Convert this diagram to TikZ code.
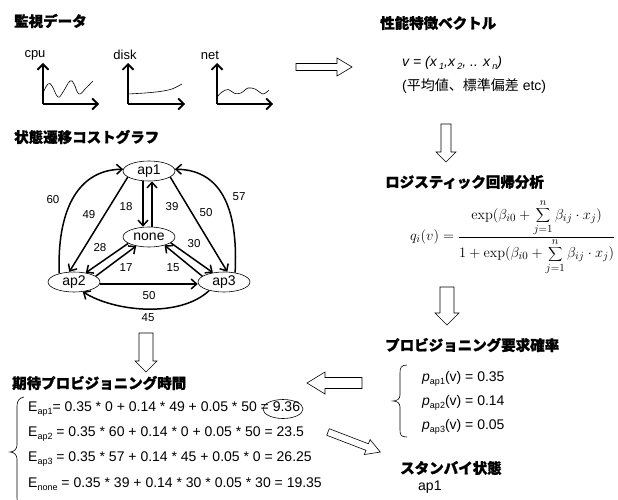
\documentclass[tikz,border=0pt]{standalone}
\usepackage[no-math]{fontspec}
\setmainfont{Liberation Sans}
\newfontfamily\jp[BoldFeatures={FakeBold=1.2}]{Noto Sans CJK JP}
\usetikzlibrary{shapes.geometric,arrows.meta}
\newcommand\sbs[1]{\raisebox{-0.35ex}{\fontsize{9}{9}\selectfont #1}}
\newcommand\blockarrow[7]{%
 \begin{scope}[shift={(#1,#2)},rotate=#3]
 \draw[blockarr] (0,-#5) -- (#4-#7,-#5) -- (#4-#7,-#6) -- (#4,0) -- (#4-#7,#6) -- (#4-#7,#5) -- (0,#5) -- cycle;
 \end{scope}}
\tikzset{
 title/.style={anchor=west,inner sep=0,font={\jp\bfseries\fontsize{14.5}{16}\selectfont}},
 txt/.style={anchor=west,inner sep=0,font={\fontsize{14}{16}\selectfont}},
 chartlbl/.style={inner sep=0,font={\fontsize{13}{15}\selectfont}},
 st/.style={ellipse,draw,line width=0.6pt,minimum width=52pt,minimum height=20pt,inner sep=0,font={\fontsize{14}{16}\selectfont}},
 edge/.style={line width=1.5pt,-{Straight Barb[length=5.5pt,width=10pt]}},
 lbl/.style={inner sep=0,font={\fontsize{11.5}{13}\selectfont}},
 axis/.style={line width=1.8pt,-{Straight Barb[length=5.5pt,width=11pt]}},
 curve/.style={line width=0.6pt},
 blockarr/.style={draw,line width=0.6pt,fill=white},
}
\begin{document}
\begin{tikzpicture}[x=1pt,y=-1pt]
\useasboundingbox (0,0) rectangle (618,500);
\clip (0,0) rectangle (618,500);
% titles
\node[title] (t1) at (14,21) {監視データ};
\node[title] (t2) at (380,23) {性能特徴ベクトル};
\node[title] (t3) at (14,137) {状態遷移コストグラフ};
\node[title] (t4) at (385,182) {ロジスティック回帰分析};
\node[title] (t5) at (385,345) {プロビジョニング要求確率};
\node[title] (t6) at (12,383) {期待プロビジョニング時間};
\node[title] (t7) at (400,468) {スタンバイ状態};
% charts
\node[chartlbl] (lcpu) at (35,55) {cpu};
\node[chartlbl] (ldisk) at (125,55) {disk};
\node[chartlbl] (lnet) at (210,55) {net};
\coordinate (o1) at (43,104); \coordinate (y1) at (43,63); \coordinate (x1) at (99,104);
\coordinate (o2) at (128,104); \coordinate (y2) at (128,63); \coordinate (x2) at (185,104);
\coordinate (o3) at (217,104); \coordinate (y3) at (217,63); \coordinate (x3) at (273,104);
\draw[axis] (o1) -- (y1); \draw[axis] (o1) -- (x1);
\draw[axis] (o2) -- (y2); \draw[axis] (o2) -- (x2);
\draw[axis] (o3) -- (y3); \draw[axis] (o3) -- (x3);
\draw[curve] plot[smooth,tension=0.7] coordinates {(43,93) (48,84) (52,86) (58,97) (63,92) (70,81) (74,84) (79,94) (86,88) (93,81)};
\draw[curve] plot[smooth] coordinates {(128,94) (145,93) (160,91.5) (172,89) (182,84)};
\draw[curve] plot[smooth] coordinates {(217,97) (222,92) (228,89.5) (235,93.5) (241,93) (248,88) (255,89) (263,94) (269,90)};
% feature vector
\node[txt,font={\itshape\fontsize{14}{16}\selectfont}] (vec) at (402,63) {v = (x\,\sbs{1},x\,\sbs{2}, .. x\,\sbs{n})};
\node[txt] (stats) at (402,86) {({\jp 平均値、標準偏差} etc)};
% logistic formula
\node[anchor=west,inner sep=0,font={\fontsize{15}{17}\selectfont}] (qf) at (410,237) {$\displaystyle q_i(v)=\frac{\displaystyle\exp(\beta_{i0}+\sum_{j=1}^{n}\beta_{ij}\cdot x_j)}{\displaystyle 1+\exp(\beta_{i0}+\sum_{j=1}^{n}\beta_{ij}\cdot x_j)}$};
% probabilities
\node[txt] (p1) at (422,379) {\textit{p}\sbs{ap1}(v) = 0.35};
\node[txt] (p2) at (422,403) {\textit{p}\sbs{ap2}(v) = 0.14};
\node[txt] (p3) at (422,427) {\textit{p}\sbs{ap3}(v) = 0.05};
\draw[line width=0.6pt] (407,365) .. controls (401,365) and (400,368) .. (400,373) -- (400,395) .. controls (400,399) and (397,401) .. (393,401) .. controls (397,401) and (400,403) .. (400,407) -- (400,430) .. controls (400,435) and (401,437) .. (407,437);
% standby
\node[txt] (sb) at (418,487) {ap1};
% expected times
\node[txt] (e1) at (28,409) {E\sbs{ap1}= 0.35 * 0 + 0.14 * 49 + 0.05 * 50 = 9.36};
\node[txt] (e2) at (28,434) {E\sbs{ap2} = 0.35 * 60 + 0.14 * 0 + 0.05 * 50 = 23.5};
\node[txt] (e3) at (28,459) {E\sbs{ap3} = 0.35 * 57 + 0.14 * 45 + 0.05 * 0 = 26.25};
\node[txt] (e4) at (28,484) {E\sbs{none} = 0.35 * 39 + 0.14 * 30 * 0.05 * 30 = 19.35};
\node[ellipse,draw,line width=0.6pt,minimum width=40pt,minimum height=19pt,inner sep=0] (c936) at (283,409) {};
\draw[line width=0.6pt] (24,397) .. controls (19,398) and (17,401) .. (17,406) -- (17,445) .. controls (17,449) and (14,452) .. (10,452) .. controls (14,452) and (17,455) .. (17,459) -- (17,498) .. controls (17,503) and (19,506) .. (24,507);
% graph
\node[st] (ap1) at (149,171) {ap1};
\node[st] (none) at (149,237) {none};
\node[st] (ap2) at (74,282) {ap2};
\node[st] (ap3) at (224,282) {ap3};
\draw[edge] ([xshift=-6pt]ap1.south) -- ([xshift=-6pt]none.north);
\draw[edge] ([xshift=3pt]none.north) -- ([xshift=3pt]ap1.south);
\draw[edge] (ap1.196) -- (ap2.115);
\draw[edge] (ap2.150) .. controls (57,215) and (75,170) .. (ap1.176);
\draw[edge] (ap1.-16) -- (ap3.72);
\draw[edge] (ap3.40) .. controls (238,215) and (225,170) .. (ap1.4);
\draw[edge] (none.197) -- (ap2.38);
\draw[edge] (ap2.15) -- (none.215);
\draw[edge] (none.-15) -- (ap3.140);
\draw[edge] (ap3.165) -- (none.-28);
\draw[edge] ([yshift=-2pt]ap2.east) -- ([yshift=-2pt]ap3.west);
\draw[edge] (ap3.210) .. controls (180,318) and (115,312) .. (ap2.-48);
\node[lbl] (l60) at (53,200) {60};
\node[lbl] (l49) at (89,215) {49};
\node[lbl] (l18) at (126,207) {18};
\node[lbl] (l39) at (172,207) {39};
\node[lbl] (l50a) at (206,213) {50};
\node[lbl] (l57) at (239,197) {57};
\node[lbl] (l28) at (100,248) {28};
\node[lbl] (l17) at (126,268) {17};
\node[lbl] (l30) at (194,244) {30};
\node[lbl] (l15) at (173,268) {15};
\node[lbl] (l50b) at (149,296) {50};
\node[lbl] (l45) at (148,318) {45};
% block arrows
\blockarrow{296}{67}{0}{56}{3.5}{9}{15}
\blockarrow{446}{124}{-90}{38}{5}{10}{10}
\blockarrow{447}{287}{-90}{38}{7}{12}{12}
\blockarrow{146}{333}{-90}{39}{7}{11}{11}
\blockarrow{362}{383}{180}{55}{5.5}{11}{18}
\blockarrow{328}{432}{-21}{56}{3.5}{8}{14}
\end{tikzpicture}
\end{document}
